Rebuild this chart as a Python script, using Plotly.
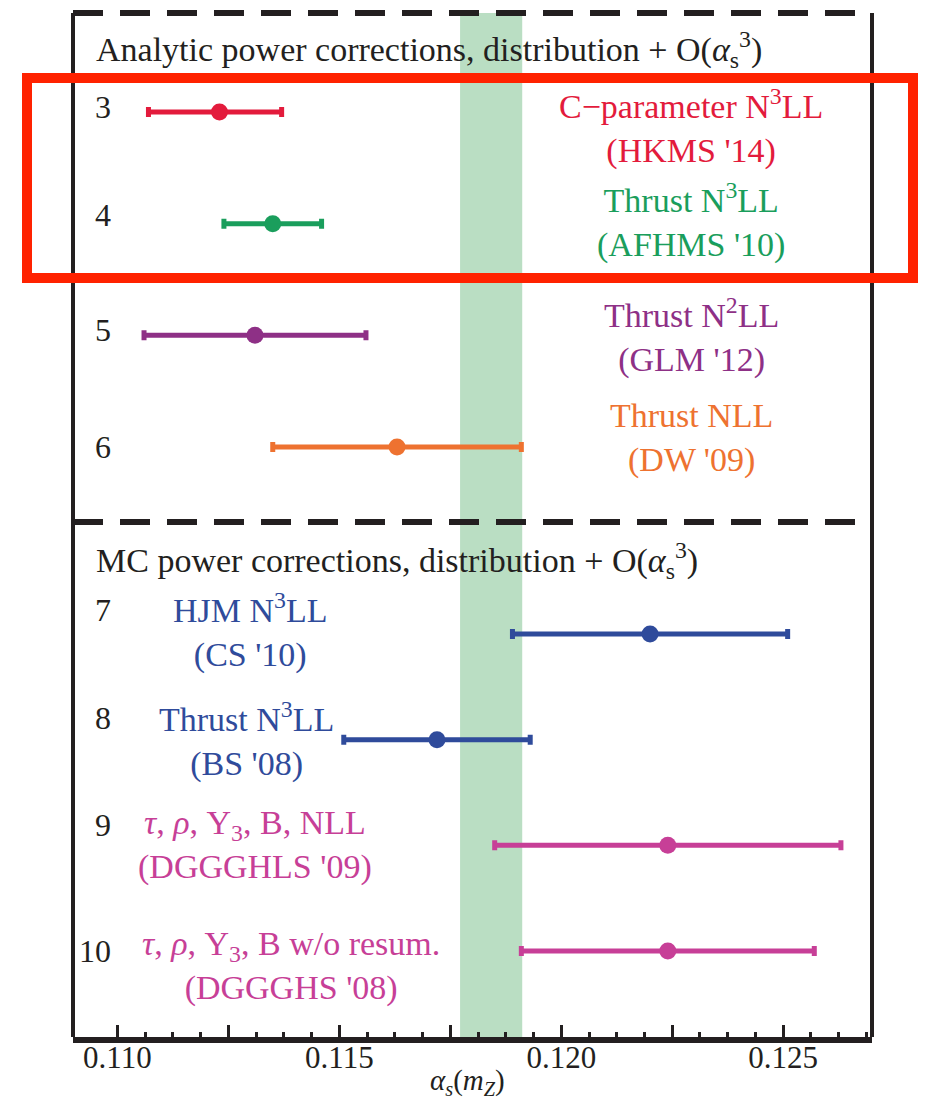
import numpy as np
import plotly.graph_objects as go

# ---------------- data ----------------
rows = [3, 4, 5, 6, 7, 8, 9, 10]
labels = [
    "C\u2212parameter N<sup>3</sup>LL<br>(HKMS '14)",
    "Thrust N<sup>3</sup>LL<br>(AFHMS '10)",
    "Thrust N<sup>2</sup>LL<br>(GLM '12)",
    "Thrust NLL<br>(DW '09)",
    "HJM N<sup>3</sup>LL<br>(CS '10)",
    "Thrust N<sup>3</sup>LL<br>(BS '08)",
    "<i>\u03c4</i>, <i>\u03c1</i>, Y<sub>3</sub>, B, NLL<br>(DGGGHLS '09)",
    "<i>\u03c4</i>, <i>\u03c1</i>, Y<sub>3</sub>, B w/o resum.<br>(DGGGHS '08)",
]
alpha_central = [0.1123, 0.1135, 0.1131, 0.1163, 0.1220, 0.1172, 0.1224, 0.1224]
alpha_low = [0.1107, 0.1124, 0.1106, 0.1135, 0.1189, 0.1151, 0.1185, 0.1191]
alpha_high = [0.1137, 0.1146, 0.1156, 0.1191, 0.1251, 0.1193, 0.1263, 0.1257]
panel = ["top", "top", "top", "top", "bottom", "bottom", "bottom", "bottom"]
headers = {
    "top": "Analytic power corrections, distribution + O(<i>\u03b1</i><sub>s</sub><sup>3</sup>)",
    "bottom": "MC power corrections, distribution + O(<i>\u03b1</i><sub>s</sub><sup>3</sup>)",
}
x_title = "<i>\u03b1</i><sub><i>s</i></sub>(<i>m</i><sub><i>Z</i></sub>)"
world_band = [0.11772, 0.11912]
tick_values = [0.110, 0.1125, 0.115, 0.1175, 0.120, 0.1225, 0.125]
tick_labels = ["0.110", "", "0.115", "", "0.120", "", "0.125"]

# ---------------- style ----------------
colors = ["#E31B3C", "#1A9E5C", "#8E3086", "#EE7230",
          "#2F4B9B", "#2F4B9B", "#C73F97", "#C73F97"]
FONT = "Liberation Serif, Times New Roman, DejaVu Serif, serif"
INK = "#231F20"
W, H = 928, 1107
ML, MR, MT, MB = 73, 56, 13, 70
SPLIT_PX = 522
plot_w = W - ML - MR
plot_h = H - MT - MB
split = (H - MB - SPLIT_PX) / plot_h

def px_x(p):
    return (p - ML) / plot_w

def px_y(p):
    return (H - MB - p) / plot_h

# label layout (x in data units, yshift in px)
label_x = [0.12293, 0.12293, 0.12293, 0.12293, 0.1130, 0.1129, 0.1131, 0.1139]
label_shift = [-15, 3, 0, 9, 4, 0, 0, -15]
num_shift = [5, 9, 5, 0, 24, 22, 20, 0]
TXT = 34

fig = go.Figure()

for i, r in enumerate(rows):
    xa, ya = ("x2", "y2") if panel[i] == "top" else ("x", "y")
    fig.add_trace(go.Scatter(
        x=[alpha_central[i]], y=[r], xaxis=xa, yaxis=ya,
        mode="markers",
        marker=dict(color=colors[i], size=17),
        error_x=dict(type="data", symmetric=False,
                     array=[alpha_high[i] - alpha_central[i]],
                     arrayminus=[alpha_central[i] - alpha_low[i]],
                     color=colors[i], thickness=5, width=5),
        showlegend=False, hoverinfo="skip",
    ))
    fig.add_annotation(x=label_x[i], y=r, xref=xa, yref=ya, text=labels[i],
                       showarrow=False, xanchor="center", yanchor="middle",
                       yshift=label_shift[i],
                       font=dict(family=FONT, size=TXT, color=colors[i]))
    fig.add_annotation(x=0.10991, y=r, xref=xa, yref=ya, text=str(r),
                       showarrow=False, xanchor="right", yanchor="middle",
                       yshift=num_shift[i],
                       font=dict(family=FONT, size=32, color=INK))

# headers
fig.add_annotation(x=0.10947, y=2.445, xref="x2", yref="y2", text=headers["top"],
                   showarrow=False, xanchor="left", yanchor="middle",
                   font=dict(family=FONT, size=TXT, color=INK))
fig.add_annotation(x=0.10947, y=6.30, xref="x", yref="y", text=headers["bottom"],
                   showarrow=False, xanchor="left", yanchor="middle",
                   font=dict(family=FONT, size=TXT, color=INK))

# x-axis title (as annotation for precise placement)
fig.add_annotation(x=px_x(467), y=px_y(1102), xref="paper", yref="paper", text=x_title,
                   showarrow=False, xanchor="center", yanchor="bottom",
                   font=dict(family=FONT, size=29, color=INK))

minor_vals = [v for v in np.arange(0.110, 0.12700001, 0.000625)
              if all(abs(v - t) > 1e-7 for t in tick_values)]

fig.update_layout(
    width=W, height=H,
    margin=dict(l=ML, r=MR, t=MT, b=MB, pad=0, autoexpand=False),
    paper_bgcolor="white", plot_bgcolor="white",
    font=dict(family=FONT, color=INK),
    xaxis=dict(range=[0.109, 0.127], domain=[0, 1], anchor="y", automargin=False,
               tickmode="array", tickvals=tick_values, ticktext=tick_labels,
               ticks="inside", ticklen=12, tickwidth=3, tickcolor=INK,
               ticklabelstandoff=-12,
               minor=dict(tickmode="array", tickvals=minor_vals, ticks="inside",
                          ticklen=5, tickwidth=3, tickcolor=INK),
               showline=True, linewidth=6, linecolor=INK, mirror=False,
               showgrid=False, zeroline=False,
               tickfont=dict(family=FONT, size=31, color=INK)),
    xaxis2=dict(range=[0.109, 0.127], domain=[0, 1], anchor="y2", matches="x",
                visible=False),
    yaxis=dict(domain=[0, split], range=[10.814, 5.94], visible=False, automargin=False),
    yaxis2=dict(domain=[split, 1], range=[6.671, 2.114], visible=False, automargin=False),
)

# world-average band
fig.add_shape(type="rect", xref="x", yref="paper", x0=world_band[0], x1=world_band[1],
              y0=0, y1=1, fillcolor="#BADEC3", line=dict(width=0), layer="below")

# frame
for xv in (0, 1):
    fig.add_shape(type="line", xref="paper", yref="paper", x0=xv, x1=xv, y0=0, y1=1,
                  line=dict(color=INK, width=4))
for yv in (1, split):
    fig.add_shape(type="line", xref="paper", yref="paper", x0=0, x1=1, y0=yv, y1=yv,
                  line=dict(color=INK, width=6, dash="30px,17px"))

# red highlight box
fig.add_shape(type="rect", xref="paper", yref="paper",
              x0=px_x(27), x1=px_x(913), y0=px_y(278), y1=px_y(78),
              line=dict(color="#FF2200", width=10), fillcolor="rgba(0,0,0,0)")

fig.write_html("out.html")
